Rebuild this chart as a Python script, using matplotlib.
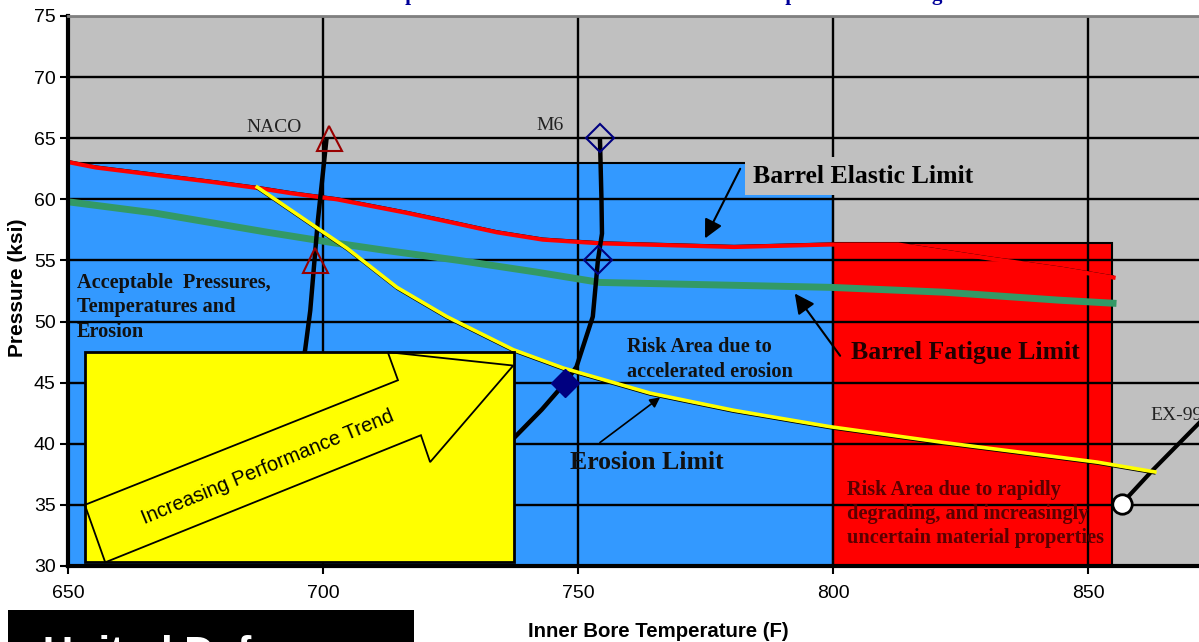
import matplotlib
matplotlib.use("Agg")
import matplotlib.pyplot as plt
from matplotlib.patches import Rectangle, Polygon
from matplotlib.transforms import offset_copy

# values (temperature F, pressure ksi)
elastic_temp = [650, 655.5, 678.6, 687.6, 693.7, 702.7, 716.3, 725.3, 734.1, 743.1,
                754.3, 780.6, 799.4, 812.8, 830, 845, 855]
elastic_press = [63.05, 62.6, 61.4, 60.9, 60.5, 60.0, 58.9, 58.1, 57.3, 56.7,
                 56.4, 56.1, 56.3, 56.3, 55.2, 54.3, 53.6]

fatigue_temp = [650, 666.7, 689.2, 701.2, 711.8, 726.7, 741.8, 754.3, 799.4, 821.8, 844.3, 854.9]
fatigue_press = [59.8, 58.9, 57.3, 56.5, 55.85, 55.0, 54.05, 53.2, 52.8, 52.4, 51.75, 51.5]

erosion_temp = [687.1, 699.4, 704.7, 714.5, 724.3, 737.3, 747.1, 764.1, 780.4, 799.4,
                821.8, 836.9, 851.8, 863.1]
erosion_press = [61.0, 57.5, 56.0, 52.8, 50.4, 47.7, 46.2, 44.15, 42.75, 41.4,
                 40.1, 39.3, 38.5, 37.7]

naco_temp = [700.7, 699.0, 698.5, 697.5, 696.5, 696.3]
naco_press = [65.0, 58.3, 55.85, 50.9, 47.7, 47.2]
naco_pts_temp = [701.2, 698.4]
naco_pts_press = [65, 55]

m6_temp = [754.3, 754.6, 754.7, 753.9, 752.9, 749.7, 747.5, 742.9, 737.5, 736]
m6_press = [65.0, 60.0, 57.2, 55.0, 50.4, 46.3, 45.0, 42.8, 40.5, 40.0]
m6_open_temp = [754.3, 753.9]
m6_open_press = [65, 55]
m6_fill_temp = [747.5]
m6_fill_press = [45]

ex99_temp = [856.6, 862.7, 872.5]
ex99_press = [35.1, 37.85, 42.0]

blue_temp = [650, 800]
blue_press = [30, 63]
red_temp = [800, 854.7]
red_press = [30, 56.4]

xticks = [650, 700, 750, 800, 850]
yticks = [30, 35, 40, 45, 50, 55, 60, 65, 70, 75]

serif = "Liberation Serif"
sans = "Liberation Sans"

fig = plt.figure(figsize=(11.99, 6.42), dpi=100)
ax = fig.add_axes([68/1199, 76/642, 1131/1199, 550/642])
ax.set_facecolor("#C0C0C0")
ax.set_xlim(650, 871.76)
ax.set_ylim(30, 75)
ax.set_axisbelow("line")

# regions
ax.add_patch(Rectangle((blue_temp[0], blue_press[0]), blue_temp[1]-blue_temp[0],
                       blue_press[1]-blue_press[0], facecolor="#3399FF",
                       edgecolor="black", lw=1.5, zorder=1))
ax.add_patch(Rectangle((red_temp[0], red_press[0]), red_temp[1]-red_temp[0],
                       red_press[1]-red_press[0], facecolor="#FF0000",
                       edgecolor="black", lw=1.5, zorder=1))

ax.grid(True, color="black", lw=1.7)

# limit curves, each with its thin black trace
ax.plot(fatigue_temp, fatigue_press, color="#339966", lw=5, zorder=2)
up = offset_copy(ax.transData, fig=fig, x=0, y=1.5, units="dots")
ax.plot(elastic_temp, elastic_press, color="black", lw=1, transform=up, zorder=2.1)
ax.plot(elastic_temp, elastic_press, color="#FF0000", lw=3, zorder=2.2)

# vehicles
ax.plot(naco_temp, naco_press, color="black", lw=3.2, zorder=2.5, solid_capstyle="butt")
ax.plot(m6_temp, m6_press, color="black", lw=3.2, zorder=2.5, solid_capstyle="butt")
ax.plot(ex99_temp, ex99_press, color="black", lw=3, zorder=2.5)

down = offset_copy(ax.transData, fig=fig, x=0, y=-2, units="dots")
ax.plot(erosion_temp, erosion_press, color="black", lw=1, transform=down, zorder=2.9)
ax.plot(erosion_temp, erosion_press, color="#FFFF00", lw=2.6, zorder=3)

ax.plot(naco_pts_temp, naco_pts_press, ls="none", marker="^", ms=18, mfc="none",
        mec="#990000", mew=1.5, zorder=3.5)
ax.plot(m6_open_temp, m6_open_press, ls="none", marker="D", ms=14, mfc="none",
        mec="#000080", mew=1.5, zorder=3.5)
ax.plot(m6_fill_temp, m6_fill_press, ls="none", marker="D", ms=14, mfc="#000080",
        mec="#000080", zorder=3.5)
ax.plot(ex99_temp[:1], ex99_press[:1], ls="none", marker="o", ms=14, mfc="white",
        mec="black", mew=2, zorder=3.5)

# yellow trend box
ax.add_patch(Rectangle((653.3, 30.3), 84.2, 17.2, facecolor="#FFFF00",
                       edgecolor="black", lw=2, zorder=5))
arrow = [(653.3, 35.0), (714.7, 45.2), (712.7, 47.5), (737.3, 46.4),
         (721.0, 38.5), (719.2, 40.7), (657.3, 30.3)]
ax.add_patch(Polygon(arrow, closed=True, facecolor="none", edgecolor="black",
                     lw=1.3, zorder=5.1))
ax.text(689.2, 38.05, "Increasing Performance Trend", family=sans, fontsize=14.5,
        rotation=22.5, rotation_mode="anchor", ha="center", va="center", zorder=5.2)

# labels
ax.text(784.3, 61.9, "Barrel Elastic Limit", family=serif, weight="bold", fontsize=18.5,
        ha="left", va="center", zorder=6,
        bbox=dict(boxstyle="square,pad=0.3", facecolor="#C0C0C0", edgecolor="none"))
ax.annotate("", xy=(774.9, 56.8), xytext=(781.8, 62.5), zorder=6,
            arrowprops=dict(arrowstyle="-|>", color="black", lw=1.5, mutation_scale=28,
                            shrinkA=0, shrinkB=0))
ax.text(803.5, 47.5, "Barrel Fatigue Limit", family=serif, weight="bold", fontsize=18.5,
        color="#200000", ha="left", va="center", zorder=6)
ax.annotate("", xy=(792.5, 52.3), xytext=(801.4, 47.2), zorder=6,
            arrowprops=dict(arrowstyle="-|>", color="black", lw=1.5, mutation_scale=30,
                            shrinkA=0, shrinkB=0))
ax.text(748.4, 38.5, "Erosion Limit", family=serif, weight="bold", fontsize=18.5,
        color="#111111", ha="left", va="center", zorder=6)
ax.annotate("", xy=(766.1, 43.8), xytext=(754.3, 40.1), zorder=6,
            arrowprops=dict(arrowstyle="-|>", color="black", lw=1.2, mutation_scale=15,
                            shrinkA=0, shrinkB=0))
ax.text(759.6, 46.9, "Risk Area due to\naccelerated erosion", family=serif, weight="bold",
        fontsize=14.6, color="#111111", ha="left", va="center", linespacing=1.3, zorder=6)
ax.text(651.8, 51.15, "Acceptable  Pressures,\nTemperatures and\nErosion", family=serif,
        weight="bold", fontsize=14.6, color="#111111", ha="left", va="center",
        linespacing=1.28, zorder=6)
ax.text(802.7, 34.25, "Risk Area due to rapidly\ndegrading, and increasingly\nuncertain material properties",
        family=serif, weight="bold", fontsize=14.7, color="#5a0000", ha="left", va="center",
        linespacing=1.28, zorder=6)
ax.text(690.3, 65.9, "NACO", family=serif, fontsize=14, color="#222222",
        ha="center", va="center", zorder=6)
ax.text(744.5, 66.0, "M6", family=serif, fontsize=14, color="#222222",
        ha="center", va="center", zorder=6)
ax.text(862.2, 42.35, "EX-99", family=serif, fontsize=14, color="#222222",
        ha="left", va="center", zorder=6)

# axes styling
ax.set_xticks(xticks)
ax.set_yticks(yticks)
ax.tick_params(axis="both", direction="out", length=6, width=1.5, color="black",
               labelsize=14)
ax.tick_params(axis="x", pad=8)
ax.tick_params(axis="y", pad=3)
for lab in ax.get_xticklabels() + ax.get_yticklabels():
    lab.set_family(sans)
ax.spines["right"].set_visible(False)
ax.spines["top"].set_color("#808080")
ax.spines["top"].set_linewidth(2)
ax.spines["left"].set_linewidth(3)
ax.spines["bottom"].set_linewidth(3)

ax.set_xlabel("Inner Bore Temperature (F)", family=sans, weight="bold", fontsize=14.7)
ax.xaxis.set_label_coords((658-68)/1131, (566-622)/550)
ax.set_ylabel("Pressure (ksi)", family=sans, weight="bold", fontsize=15)
ax.yaxis.set_label_coords((27-68)/1131, (566-288)/550)

# cut-off title and footer box
fig.text(366/1199, 1.0, "Temperature Limits and Erosion Risk vs. Competitor Technologies",
         family=serif, weight="bold", fontsize=15.2, color="#000099",
         ha="left", va="baseline")
fig.add_artist(Rectangle((8/1199, 0), 406/1199, 32/642, transform=fig.transFigure,
                         facecolor="black", edgecolor="none"))
fig.text(43/1199, (642-666)/642, "United Defense", family=sans, weight="bold",
         fontsize=30, color="white", ha="left", va="baseline")

fig.savefig("out.png", dpi=100)
